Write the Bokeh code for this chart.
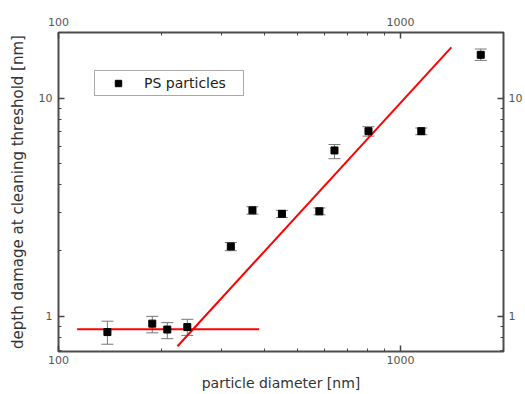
from bokeh.plotting import figure
from bokeh.models import (LogAxis, FixedTicker, NumeralTickFormatter, Whisker, TeeHead,
                          ColumnDataSource, Legend, LegendItem, Range1d)
from bokeh.embed import file_html
from bokeh.resources import INLINE

# ---- data ----
diameter = [139, 188, 208, 238, 319, 369, 450, 579, 641, 806, 1150, 1716]
depth = [0.847, 0.926, 0.87, 0.893, 2.09, 3.06, 2.95, 3.03, 5.76, 7.06, 7.06, 15.8]
err_lo = [0.745, 0.84, 0.79, 0.818, 2.0, 2.94, 2.84, 2.92, 5.28, 6.7, 6.8, 14.9]
err_hi = [0.95, 1.0, 0.936, 0.969, 2.18, 3.18, 3.06, 3.14, 6.13, 7.4, 7.3, 16.8]

flat_x = [113.4, 386]
flat_y = [0.872, 0.872]
slope_x = [222.8, 1408]
slope_y = [0.729, 17.1]

x_major = [100, 1000]
x_minor = [200, 300, 400, 500, 600, 700, 800, 900, 2000]
y_major = [1, 10]
y_minor = [0.7, 0.8, 0.9, 2, 3, 4, 5, 6, 7, 8, 9, 20]

FONT = "DejaVu Sans"
FRAME = "#4d4d4d"

p = figure(width=525, height=394, x_axis_type="log", y_axis_type="log",
           x_range=Range1d(100, 2000), y_range=Range1d(0.69, 20),
           output_backend="svg", toolbar_location=None,
           min_border_left=58, min_border_top=32, min_border_right=22, min_border_bottom=43)
p.xgrid.visible = False
p.ygrid.visible = False
p.outline_line_color = FRAME
p.outline_line_width = 2
p.background_fill_color = "white"
p.border_fill_color = "white"

top_axis = LogAxis()
right_axis = LogAxis()
p.add_layout(top_axis, "above")
p.add_layout(right_axis, "right")

bottom_axis = p.below[0]
left_axis = p.left[0]

def style(ax, ticks, minor):
    ax.ticker = FixedTicker(ticks=ticks, minor_ticks=minor)
    ax.formatter = NumeralTickFormatter(format="0")
    ax.axis_line_color = None
    ax.major_tick_in = 6
    ax.major_tick_out = 0
    ax.minor_tick_in = 3
    ax.minor_tick_out = 0
    ax.major_tick_line_color = "#444"
    ax.minor_tick_line_color = "#444"
    ax.major_tick_line_width = 1.5
    ax.major_label_text_font = FONT
    ax.major_label_text_font_size = "11px"
    ax.major_label_text_color = "#555"
    ax.axis_label_text_font = FONT
    ax.axis_label_text_font_style = "normal"
    ax.axis_label_text_color = "#333"

style(bottom_axis, x_major, x_minor)
style(top_axis, x_major, x_minor)
style(left_axis, y_major, y_minor)
style(right_axis, y_major, y_minor)

bottom_axis.major_label_standoff = 4
bottom_axis.axis_label = "particle diameter [nm]"
bottom_axis.axis_label_text_font_size = "14px"
bottom_axis.axis_label_standoff = 8
top_axis.major_label_standoff = 7
left_axis.major_label_standoff = 6
left_axis.axis_label = "depth damage at cleaning threshold [nm]"
left_axis.axis_label_text_font_size = "15px"
left_axis.axis_label_standoff = 9
right_axis.major_label_standoff = 5

src = ColumnDataSource(dict(x=diameter, y=depth, lo=err_lo, hi=err_hi))

p.add_layout(Whisker(base="x", lower="lo", upper="hi", source=src, dimension="height",
                     line_color="#777", line_width=1,
                     upper_head=TeeHead(size=12, line_color="#777", line_width=1),
                     lower_head=TeeHead(size=12, line_color="#777", line_width=1)))

p.line(flat_x, flat_y, line_color="#ff0000", line_width=2)
p.line(slope_x, slope_y, line_color="#ff0000", line_width=2)

sq = p.scatter("x", "y", source=src, marker="square", size=7, fill_color="black", line_color="black")

legend = Legend(items=[LegendItem(label="PS particles", renderers=[sq])],
                location=(36, 255), padding=4, spacing=0,
                glyph_width=38, glyph_height=16, label_standoff=7,
                label_width=95, label_height=16,
                label_text_font=FONT, label_text_font_size="14px", label_text_color="#222",
                border_line_color="#555", border_line_width=1,
                background_fill_color="white", background_fill_alpha=1.0)
p.add_layout(legend)

open("out.html", "w").write(file_html(p, INLINE))
